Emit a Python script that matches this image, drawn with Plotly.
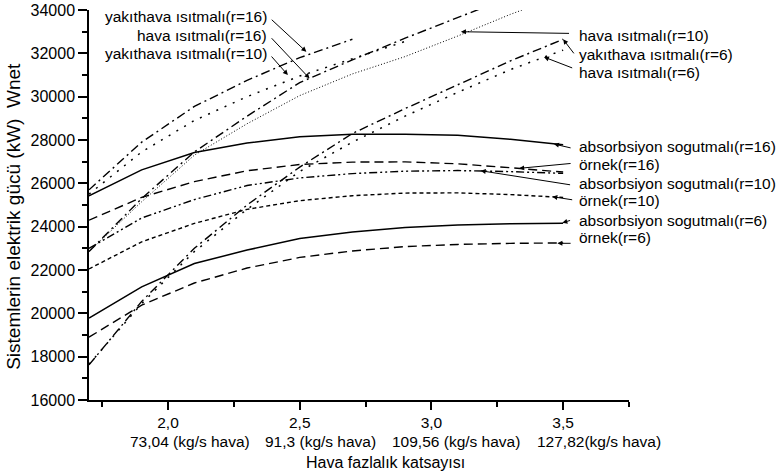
import plotly.graph_objects as go

# ---------------- data ----------------
x_full = [1.7, 1.9, 2.1, 2.3, 2.5, 2.7, 2.9, 3.1, 3.3, 3.5]

yakithava_r16 = [25700, 27900, 29550, 30750, 31800, 32650]                      # to 2.7
yakithava_r10 = [25500, 27450, 28900, 30000, 30950, 31750, 32550]               # to 2.9
hava_r16 = [22850, 25300, 27450, 29100, 30650, 31700, 32700, 33650, 34600]      # to 3.3
hava_r10 = [22850, 25150, 27300, 28750, 30050, 31050, 31850, 32800, 33800, 34700]
absorb_r16 = [25420, 26620, 27420, 27860, 28150, 28260, 28270, 28220, 28030, 27780]
ornek_r16 = [24300, 25350, 26080, 26580, 26870, 26980, 26990, 26900, 26720, 26520]
absorb_r10 = [23000, 24400, 25250, 25900, 26250, 26450, 26560, 26590, 26540, 26460]
ornek_r10 = [22050, 23300, 24150, 24800, 25200, 25430, 25550, 25560, 25480, 25350]
absorb_r6 = [19780, 21220, 22300, 22920, 23450, 23750, 23960, 24080, 24140, 24160]
ornek_r6 = [18900, 20380, 21400, 22090, 22580, 22880, 23080, 23180, 23230, 23250]
yakithava_r6 = [17620, 20550, 23000, 25000, 26750, 28300, 29450, 30550, 31650, 32650]
hava_r6 = [17650, 20450, 22850, 24800, 26550, 27900, 29100, 30200, 31250, 32150]

x_tickvals = [2.0, 2.5, 3.0, 3.5]
x_ticktext = ["2,0", "2,5", "3,0", "3,5"]
x_minor = [1.75, 2.25, 2.75, 3.25, 3.75]
y_tickvals = [16000, 18000, 20000, 22000, 24000, 26000, 28000, 30000, 32000, 34000]
y_minor = [17000, 19000, 21000, 23000, 25000, 27000, 29000, 31000, 33000]

flow_labels = ["73,04 (kg/s hava)", "91,3 (kg/s hava)", "109,56 (kg/s hava)", "127,82(kg/s hava)"]
flow_label_x = [2.083, 2.578, 3.095, 3.636]

# label text, text y, tail x, tail y, head x, head y
labels_right = [
    ("hava ısıtmalı(r=10)", 32845, 3.528, 32920, 3.112, 32997),
    ("yakıthava ısıtmalı(r=6)", 31968, 3.545, 31930, 3.500, 32646),
    ("hava ısıtmalı(r=6)", 31137, 3.540, 31300, 3.427, 31830),
    ("absorbsiyon sogutmalı(r=16)", 27722, 3.534, 27620, 3.465, 27814),
    ("örnek(r=16)", 26891, 3.534, 26923, 3.333, 26692),
    ("absorbsiyon sogutmalı(r=10)", 26015, 3.532, 25922, 3.187, 26582),
    ("örnek(r=10)", 25230, 3.540, 25230, 3.459, 25384),
    ("absorbsiyon sogutmalı(r=6)", 24307, 3.532, 24307, 3.497, 24182),
    ("örnek(r=6)", 23522, 3.534, 23232, 3.478, 23232),
]
labels_left = [
    ("yakıthava ısıtmalı(r=16)", 33690, 2.388, 33615, 2.525, 32073),
    ("hava ısıtmalı(r=16)", 32815, 2.388, 32767, 2.537, 30846),
    ("yakıthava ısıtmalı(r=10)", 31990, 2.388, 31922, 2.455, 30999),
]

FONT = "Arial, Liberation Sans, sans-serif"

series = [
    ("yakıthava ısıtmalı(r=16)", x_full[:len(yakithava_r16)], yakithava_r16, "9px,4px,2px,4px", 1.4),
    ("yakıthava ısıtmalı(r=10)", x_full[:len(yakithava_r10)], yakithava_r10, "2px,7px", 1.5),
    ("hava ısıtmalı(r=16)", x_full[:len(hava_r16)], hava_r16, "9px,4px,2px,4px", 1.4),
    ("hava ısıtmalı(r=10)", x_full, hava_r10, "1px,2px", 1.0),
    ("absorbsiyon sogutmalı(r=16)", x_full, absorb_r16, "solid", 1.5),
    ("örnek(r=16)", x_full, ornek_r16, "9px,5px", 1.4),
    ("absorbsiyon sogutmalı(r=10)", x_full, absorb_r10, "8px,3px,2px,3px,2px,3px", 1.4),
    ("örnek(r=10)", x_full, ornek_r10, "4px,3px", 1.4),
    ("absorbsiyon sogutmalı(r=6)", x_full, absorb_r6, "solid", 1.5),
    ("örnek(r=6)", x_full, ornek_r6, "9px,5px", 1.4),
    ("yakıthava ısıtmalı(r=6)", x_full, yakithava_r6, "9px,4px,2px,4px", 1.4),
    ("hava ısıtmalı(r=6)", x_full, hava_r6, "2px,7px", 1.5),
]

fig = go.Figure()
for name, xs, ys, dash, w in series:
    fig.add_trace(go.Scatter(x=xs, y=ys, mode="lines", name=name,
                             line=dict(color="black", width=w, dash=dash),
                             showlegend=False))

ann = []
for text, ty, tx, tyy, hx, hy in labels_right:
    ann.append(dict(x=3.552, y=ty, xref="x", yref="y", text=text, showarrow=False,
                    xanchor="left", yanchor="middle", font=dict(family=FONT, size=15.5, color="black")))
    ann.append(dict(x=hx, y=hy, ax=tx, ay=tyy, xref="x", yref="y", axref="x", ayref="y",
                    text="", showarrow=True, arrowhead=2, arrowsize=1, arrowwidth=1, arrowcolor="black"))
for text, ty, tx, tyy, hx, hy in labels_left:
    ann.append(dict(x=2.384, y=ty, xref="x", yref="y", text=text, showarrow=False,
                    xanchor="right", yanchor="middle", font=dict(family=FONT, size=15.5, color="black")))
    ann.append(dict(x=hx, y=hy, ax=tx, ay=tyy, xref="x", yref="y", axref="x", ayref="y",
                    text="", showarrow=True, arrowhead=2, arrowsize=1, arrowwidth=1, arrowcolor="black"))
for lx, lt in zip(flow_label_x, flow_labels):
    ann.append(dict(x=lx, y=-0.107, xref="x", yref="paper", text=lt, showarrow=False,
                    xanchor="center", yanchor="middle", font=dict(family=FONT, size=15.5, color="black")))
ann.append(dict(x=2.825, y=-0.159, xref="x", yref="paper", text="Hava fazlalık katsayısı",
                showarrow=False, xanchor="center", yanchor="middle",
                font=dict(family=FONT, size=16, color="black")))
ann.append(dict(x=-0.139, y=0.472, xref="paper", yref="paper",
                text="Sistemlerin elektrik gücü (kW)  Wnet", textangle=-90, showarrow=False,
                xanchor="center", yanchor="middle", font=dict(family=FONT, size=19, color="black")))

fig.update_layout(
    width=781, height=475,
    margin=dict(l=89, r=152, t=10, b=75, autoexpand=False),
    paper_bgcolor="white", plot_bgcolor="white",
    font=dict(family=FONT, color="black"),
    annotations=ann,
    xaxis=dict(range=[1.7, 3.75], showgrid=False, zeroline=False, showline=True, automargin=False,
               linecolor="black", linewidth=1.5, ticks="outside", ticklen=8, tickwidth=1.5,
               tickcolor="black", tickvals=x_tickvals, ticktext=x_ticktext,
               tickfont=dict(family=FONT, size=15.5, color="black"),
               minor=dict(tickvals=x_minor, ticks="outside", ticklen=5, tickwidth=1.5, tickcolor="black")),
    yaxis=dict(range=[16000, 34000], showgrid=False, zeroline=False, showline=True, automargin=False,
               linecolor="black", linewidth=1.5, ticks="outside", ticklen=9, tickwidth=1.5,
               tickcolor="black", tickvals=y_tickvals, ticktext=[str(v) for v in y_tickvals],
               tickfont=dict(family=FONT, size=16, color="black"),
               minor=dict(tickvals=y_minor, ticks="outside", ticklen=5, tickwidth=1.5, tickcolor="black")),
)

fig.write_html("out.html", config={"displayModeBar": False},
               post_script="document.body.style.margin='0px';")
